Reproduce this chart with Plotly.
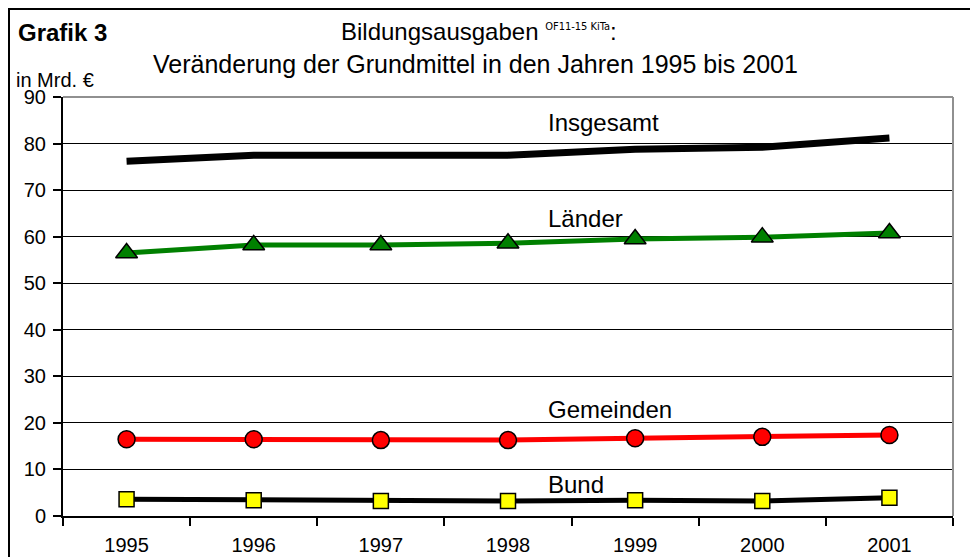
import plotly.graph_objects as go

years = ["1995", "1996", "1997", "1998", "1999", "2000", "2001"]
insgesamt = [76.2, 77.5, 77.5, 77.5, 78.8, 79.2, 81.2]
laender = [56.5, 58.2, 58.2, 58.6, 59.5, 59.9, 60.8]
gemeinden = [16.5, 16.5, 16.3, 16.3, 16.7, 17.0, 17.4]
bund = [3.6, 3.4, 3.2, 3.2, 3.4, 3.2, 3.9]

W, H = 970, 557
L, R, T, B = 63, 953, 97, 516

def px(p):
    return (p - L) / (R - L)

def py(p):
    return (B - p) / (B - T)

FONT = "Liberation Sans, Arial, sans-serif"

fig = go.Figure()
fig.add_trace(go.Scatter(x=years, y=insgesamt, mode="lines", name="Insgesamt",
                         line=dict(color="black", width=7)))
fig.add_trace(go.Scatter(x=years, y=laender, mode="lines+markers", name="Länder",
                         line=dict(color="#008000", width=5),
                         marker=dict(symbol="triangle-up", size=19, color="#008000",
                                     line=dict(color="black", width=1.5))))
fig.add_trace(go.Scatter(x=years, y=gemeinden, mode="lines+markers", name="Gemeinden",
                         line=dict(color="#ff0000", width=5),
                         marker=dict(symbol="circle", size=17, color="#ff0000",
                                     line=dict(color="black", width=1.5))))
fig.add_trace(go.Scatter(x=years, y=bund, mode="lines+markers", name="Bund",
                         line=dict(color="black", width=5),
                         marker=dict(symbol="square", size=15, color="#ffff00",
                                     line=dict(color="black", width=1.5))))

annotations = [
    dict(text="<b>Grafik 3</b>", x=px(16), y=py(33), font=dict(size=24)),
    dict(text="Bildungsausgaben <sup><span style='font-family:Liberation Sans Narrow, DejaVu Sans Condensed, sans-serif;font-size:11px'>OF11-15 KiTa</span></sup>:",
         x=px(339), y=py(31), font=dict(size=24)),
    dict(text="Veränderung der Grundmittel in den Jahren 1995 bis 2001", x=px(151), y=py(64),
         font=dict(size=25)),
    dict(text="in Mrd. €", x=px(14), y=py(80), font=dict(size=20)),
    dict(text="Insgesamt", x=px(546), y=py(122), font=dict(size=24)),
    dict(text="Länder", x=px(546), y=py(218), font=dict(size=24)),
    dict(text="Gemeinden", x=px(546), y=py(409), font=dict(size=24)),
    dict(text="Bund", x=px(546), y=py(484), font=dict(size=24)),
]
for a in annotations:
    a.update(xref="paper", yref="paper", xanchor="left", yanchor="middle",
             showarrow=False)
    a["font"].update(family=FONT, color="black")

shapes = [
    # outer frame
    dict(type="rect", xref="paper", yref="paper", x0=px(9), y0=py(580), x1=px(990), y1=py(9),
         line=dict(color="black", width=2), layer="below"),
    # plot area top and right borders (gray)
    dict(type="line", xref="paper", yref="paper", x0=0, y0=1, x1=1, y1=1,
         line=dict(color="#909090", width=2)),
    dict(type="line", xref="paper", yref="paper", x0=1, y0=0, x1=1, y1=1,
         line=dict(color="#909090", width=2)),
]

fig.update_layout(
    width=W, height=H,
    margin=dict(l=L, r=W - R, t=T, b=H - B, autoexpand=False),
    paper_bgcolor="white", plot_bgcolor="white",
    showlegend=False,
    font=dict(family=FONT, size=20, color="black"),
    annotations=annotations,
    shapes=shapes,
    xaxis=dict(type="category", tickson="boundaries", ticks="outside", ticklen=8,
               tickcolor="black", tickwidth=1.5, showgrid=False, showline=True,
               linecolor="black", linewidth=2, tickfont=dict(size=20),
               ticklabelstandoff=10,
               range=[-0.5, 6.5], fixedrange=True, automargin=False),
    yaxis=dict(range=[0, 90], dtick=10, ticks="outside", ticklen=8, tickcolor="black",
               tickwidth=1.5, showgrid=True, gridcolor="black", gridwidth=1,
               showline=True, linecolor="black", linewidth=2, zeroline=False,
               tickfont=dict(size=20), ticklabelstandoff=3,
               fixedrange=True, automargin=False),
)

fig.write_html("out.html", config={"displayModeBar": False},
               post_script="document.body.style.margin='0';document.body.style.overflow='hidden';")
